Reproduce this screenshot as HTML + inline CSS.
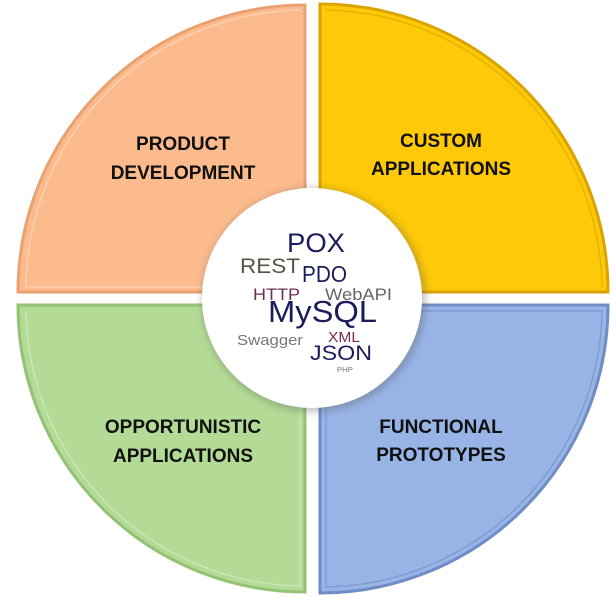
<!DOCTYPE html>
<html><head><meta charset="utf-8"><style>
html,body{margin:0;padding:0;background:#fff;}
svg{display:block}
</style></head><body>
<svg width="613" height="597" viewBox="0 0 613 597" xmlns="http://www.w3.org/2000/svg">
<defs>
<radialGradient id="tl" cx="305" cy="292" r="287" gradientUnits="userSpaceOnUse"><stop offset="0" stop-color="#f7b58a"/><stop offset="1" stop-color="#fbbf8f"/></radialGradient>
<filter id="sh" x="-20%" y="-20%" width="140%" height="140%"><feGaussianBlur stdDeviation="4"/></filter>
</defs>
<!-- quadrants -->
<path d="M305,292 L18,292 A287,287 0 0 1 305,5 Z" fill="#fbbb8d" stroke="#e9a171" stroke-width="3"/>
<path d="M300,287 L26,287 A279,279 0 0 1 300,10" fill="none" stroke="#fcd0b0" stroke-width="1.5"/>
<path d="M320,292 L320,4 A288,288 0 0 1 608,292 Z" fill="#fec908" stroke="#d9a400" stroke-width="3"/>
<path d="M326,10 A281,281 0 0 1 602,287" fill="none" stroke="#e6b400" stroke-width="1.5"/>
<path d="M305,305 L18,305 A287,287 0 0 0 305,592 Z" fill="#b3db95" stroke="#94c275" stroke-width="3"/>
<path d="M26,311 A279,279 0 0 0 300,586 L300,311" fill="none" stroke="#c8e6b2" stroke-width="1.5"/>
<path d="M320,305 L608,305 A288,288 0 0 1 320,593 Z" fill="#98b4e7" stroke="#6f8cc4" stroke-width="3"/>
<path d="M326,311 L602,311 A281,281 0 0 1 326,587 Z" fill="none" stroke="#7f9bd0" stroke-width="1.5"/>
<!-- center -->
<circle cx="314" cy="300" r="112" fill="#555" opacity="0.35" filter="url(#sh)"/>
<circle cx="312" cy="298" r="110" fill="#fff"/>
<g font-family="Liberation Sans, sans-serif" font-weight="bold" font-size="19" fill="#111" text-anchor="middle">
<text x="183" y="150">PRODUCT</text>
<text x="183" y="179">DEVELOPMENT</text>
<text x="441" y="147">CUSTOM</text>
<text x="441" y="175">APPLICATIONS</text>
<text x="183" y="433">OPPORTUNISTIC</text>
<text x="183" y="462">APPLICATIONS</text>
<text x="441" y="433">FUNCTIONAL</text>
<text x="441" y="461">PROTOTYPES</text>
</g>
<g font-family="Liberation Sans, sans-serif">
<text x="287" y="252" font-size="27" fill="#1c1c5c" textLength="58" lengthAdjust="spacingAndGlyphs">POX</text>
<text x="240" y="273" font-size="21" fill="#555548" textLength="60" lengthAdjust="spacingAndGlyphs">REST</text>
<text x="302" y="282" font-size="23" fill="#1c1c5c" textLength="45" lengthAdjust="spacingAndGlyphs">PDO</text>
<text x="253" y="300" font-size="17" fill="#6a3050" textLength="47" lengthAdjust="spacingAndGlyphs">HTTP</text>
<text x="325" y="300" font-size="17" fill="#666" textLength="67" lengthAdjust="spacingAndGlyphs">WebAPI</text>
<text x="268" y="322" font-size="31" fill="#1c1c5c" textLength="109" lengthAdjust="spacingAndGlyphs">MySQL</text>
<text x="237" y="345" font-size="15" fill="#777" textLength="66" lengthAdjust="spacingAndGlyphs">Swagger</text>
<text x="328" y="342" font-size="15" fill="#7a2d4a" textLength="32" lengthAdjust="spacingAndGlyphs">XML</text>
<text x="310" y="360" font-size="21" fill="#1c1c5c" textLength="62" lengthAdjust="spacingAndGlyphs">JSON</text>
<text x="337" y="372" font-size="7" fill="#777" textLength="16" lengthAdjust="spacingAndGlyphs">PHP</text>
</g>
</svg>
</body></html>
